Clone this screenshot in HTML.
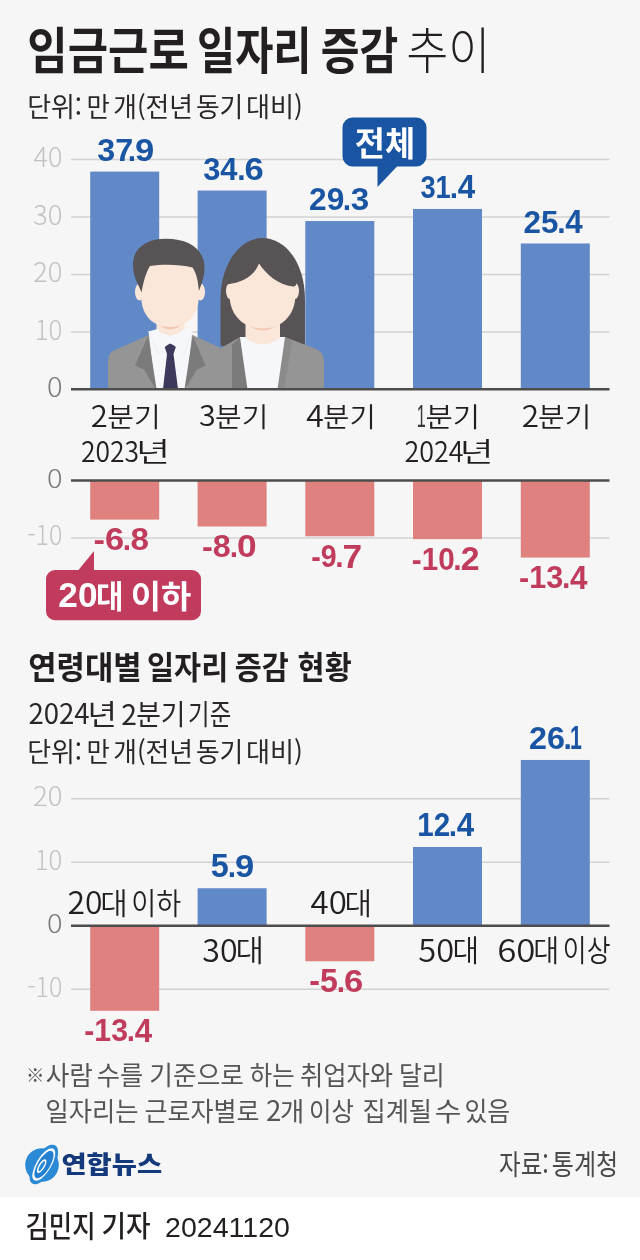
<!DOCTYPE html>
<html lang="ko">
<head>
<meta charset="utf-8">
<title>임금근로 일자리 증감 추이</title>
<style>
html,body{margin:0;padding:0;background:#fff;}
body{width:640px;height:1260px;overflow:hidden;font-family:'Noto Sans CJK KR', 'Liberation Sans', sans-serif;}
svg{display:block;}
svg text{font-family:'Noto Sans CJK KR', 'Liberation Sans', sans-serif;}
</style>
</head>
<body>
<svg width="640" height="1260" viewBox="0 0 640 1260">
<rect x="0" y="0" width="640" height="1197.5" fill="#f6f6f6" />
<rect x="0" y="1197.5" width="640" height="62.5" fill="#ffffff" />
<text><tspan x="27.31" y="69.46" font-size="50.54" font-weight="700" fill="#231f20" textLength="161.45" lengthAdjust="spacingAndGlyphs">임금근로</tspan> <tspan x="196.92" y="69.0" font-size="50.0" font-weight="700" fill="#231f20" textLength="114.65" lengthAdjust="spacingAndGlyphs">일자리</tspan> <tspan x="320.82" y="69.05" font-size="49.46" font-weight="700" fill="#231f20" textLength="77.45" lengthAdjust="spacingAndGlyphs">증감</tspan> <tspan x="406.26" y="69.0" font-size="50.0" font-weight="300" fill="#231f20" textLength="84.15" lengthAdjust="spacingAndGlyphs">추이</tspan></text>
<text><tspan x="27.17" y="117.2" font-size="26.8" font-weight="400" fill="#2b2728" textLength="54.85" lengthAdjust="spacingAndGlyphs">단위:</tspan> <tspan x="86.47" y="117.2" font-size="26.8" font-weight="400" fill="#2b2728" textLength="23.29" lengthAdjust="spacingAndGlyphs">만</tspan> <tspan x="113.21" y="117.2" font-size="26.8" font-weight="400" fill="#2b2728" textLength="79.82" lengthAdjust="spacingAndGlyphs">개(전년</tspan> <tspan x="195.91" y="117.2" font-size="26.8" font-weight="400" fill="#2b2728" textLength="47.44" lengthAdjust="spacingAndGlyphs">동기</tspan> <tspan x="245.91" y="117.2" font-size="26.8" font-weight="400" fill="#2b2728" textLength="56.89" lengthAdjust="spacingAndGlyphs">대비)</tspan></text>
<line x1="71" y1="159.5" x2="609.5" y2="159.5" stroke="#d2d2d2" stroke-width="1.5"/>
<text><tspan x="33.46" y="167.23" font-size="27.4" font-weight="300" fill="#c2c2c2" textLength="28.89" lengthAdjust="spacingAndGlyphs">40</tspan></text>
<line x1="71" y1="217.0" x2="609.5" y2="217.0" stroke="#d2d2d2" stroke-width="1.5"/>
<text><tspan x="32.90" y="224.73" font-size="27.4" font-weight="300" fill="#c2c2c2" textLength="29.48" lengthAdjust="spacingAndGlyphs">30</tspan></text>
<line x1="71" y1="274.5" x2="609.5" y2="274.5" stroke="#d2d2d2" stroke-width="1.5"/>
<text><tspan x="32.90" y="282.23" font-size="27.4" font-weight="300" fill="#c2c2c2" textLength="29.48" lengthAdjust="spacingAndGlyphs">20</tspan></text>
<line x1="71" y1="332.0" x2="609.5" y2="332.0" stroke="#d2d2d2" stroke-width="1.5"/>
<text><tspan x="34.68" y="339.73" font-size="27.4" font-weight="300" fill="#c2c2c2" textLength="27.61" lengthAdjust="spacingAndGlyphs">10</tspan></text>
<rect x="90.2" y="171.58" width="69" height="217.92" fill="#6289c7" />
<rect x="197.6" y="190.55" width="69" height="198.95" fill="#6289c7" />
<rect x="305.3" y="221.03" width="69" height="168.47" fill="#6289c7" />
<rect x="413" y="208.95" width="69" height="180.55" fill="#6289c7" />
<rect x="520.8" y="243.45" width="69" height="146.05" fill="#6289c7" />
<g id="people">
<path d="M220.5 346 L220.5 300 C220.5 262 241 238 262.5 238 C285 238 305 262 305 300 L305 346 Z" fill="#585455"/>
<path d="M214 389 L214 352 L240 337 L285 337 L316 349 Q324 352 324 362 L324 389 Z" fill="#959595"/>
<path d="M240 337 L247.5 389 L232 389 L232 345 Z" fill="#7b7b7b"/>
<path d="M285 337 L277.5 389 L284 389 L292 341 Z" fill="#8b8b8b"/>
<path d="M240 337 L285 337 L277.5 389 L247.5 389 Z" fill="#f6f7fa"/>
<path d="M245.5 316 L245.5 338 Q262.5 351 280 338 L280 316 Z" fill="#fbe6da"/>
<path d="M245.5 323 Q262.5 338 280 323 L280 316 L245.5 316 Z" fill="#f3c7b2"/>
<ellipse cx="230" cy="291" rx="4" ry="8" fill="#fbe6da"/>
<ellipse cx="295" cy="291" rx="4" ry="8" fill="#fbe6da"/>
<path d="M229.5 270 L229.5 294 C229.5 317 245 328.5 262.5 328.5 C280 328.5 295.5 317 295.5 294 L295.5 270 C295.5 262 229.5 262 229.5 270 Z" fill="#fbe6da"/>
<path d="M259 263.5 C254 276 244 282 227 284.5 L224 284 L226 275 L237 256 L259 250 Z" fill="#585455"/>
<path d="M259 263.5 C266 274 278 285 293 286.5 C296 287 297 284 296 282 L301 282 L299 275 L287 256 L259 250 Z" fill="#585455"/>
<path d="M108 389 L108 362 Q108 352 116 349.5 L149 335 L192.5 335 L224 349.5 Q232 352 232 362 L232 389 Z" fill="#959595"/>
<path d="M148.5 331 L192.5 331 L186 389 L155 389 Z" fill="#f6f7fa"/>
<path d="M149.5 333 L158.5 353.5 L166 345" fill="none" stroke="#dfe2e8" stroke-width="1"/>
<path d="M191.5 333 L183.5 353.5 L175.5 345" fill="none" stroke="#dfe2e8" stroke-width="1"/>
<path d="M148 336 L135 365.5 L144 369.5 L155.5 389 L156.5 389 L150.5 350 Z" fill="#7b7b7b"/>
<path d="M193 336 L205.5 365.5 L197 369.5 L185 389 L184.5 389 L190.5 350 Z" fill="#7b7b7b"/>
<path d="M164.5 346.5 L170.2 343.5 L176 346.5 L173.5 354 L178 389 L163 389 L167 354 Z" fill="#3b3a5d"/>
<path d="M156.5 314 L156.5 331 L170 336 L184.5 331 L184.5 314 Z" fill="#fbe6da"/>
<path d="M156.5 322 Q170 337 184.5 322 L184.5 316 L156.5 316 Z" fill="#f3c7b2"/>
<path d="M148.5 331.5 L157.5 329 L168 344 L158.5 353.5 Z" fill="#f6f7fa"/>
<path d="M192.5 331.5 L183.5 329 L172.5 344 L183.5 353.5 Z" fill="#f6f7fa"/>
<ellipse cx="139.5" cy="292" rx="4.5" ry="8.5" fill="#fbe6da"/>
<ellipse cx="200.5" cy="292" rx="4.5" ry="8.5" fill="#fbe6da"/>
<path d="M141 262 L141 294 C141 316 153 327 170 327 C187 327 199 316 199 294 L199 262 Z" fill="#fbe6da"/>
<path d="M141.5 292.5 C139 285 133 278 133 265 C133 248 146 238.7 166 238.7 C190 238.7 204.5 250 204.5 268 C204.5 278 201 285 199 291 C198 282 197 274 192.5 267.5 C180 264 162 264 150 266 C145.5 273 143 284 141.5 292.5 Z" fill="#585455"/>
</g>
<line x1="71" y1="389.2" x2="609.5" y2="389.2" stroke="#4d4d4d" stroke-width="2.5"/>
<text><tspan x="47.05" y="396.73" font-size="27.4" font-weight="300" fill="#7a7a7a" textLength="15.55" lengthAdjust="spacingAndGlyphs">0</tspan></text>
<text><tspan x="97.35" y="160.66" font-size="31.97" font-weight="700" fill="#1955a3" textLength="35.91" lengthAdjust="spacingAndGlyphs" style="font-family:'Liberation Sans', 'Noto Sans CJK KR', sans-serif">37</tspan><tspan x="127.80" y="160.68" font-size="31" font-weight="700" fill="#1955a3" textLength="8.34" lengthAdjust="spacingAndGlyphs" style="font-family:'Liberation Sans', 'Noto Sans CJK KR', sans-serif">.</tspan><tspan x="135.02" y="160.66" font-size="31.97" font-weight="700" fill="#1955a3" textLength="19.24" lengthAdjust="spacingAndGlyphs" style="font-family:'Liberation Sans', 'Noto Sans CJK KR', sans-serif">9</tspan></text>
<text><tspan x="203.13" y="179.63" font-size="31.97" font-weight="700" fill="#1955a3" textLength="34.34" lengthAdjust="spacingAndGlyphs" style="font-family:'Liberation Sans', 'Noto Sans CJK KR', sans-serif">34</tspan><tspan x="237.30" y="179.65" font-size="31" font-weight="700" fill="#1955a3" textLength="8.34" lengthAdjust="spacingAndGlyphs" style="font-family:'Liberation Sans', 'Noto Sans CJK KR', sans-serif">.</tspan><tspan x="244.52" y="179.63" font-size="31.97" font-weight="700" fill="#1955a3" textLength="19.24" lengthAdjust="spacingAndGlyphs" style="font-family:'Liberation Sans', 'Noto Sans CJK KR', sans-serif">6</tspan></text>
<text><tspan x="309.05" y="210.11" font-size="31.97" font-weight="700" fill="#1955a3" textLength="35.19" lengthAdjust="spacingAndGlyphs" style="font-family:'Liberation Sans', 'Noto Sans CJK KR', sans-serif">29</tspan><tspan x="342.80" y="210.12" font-size="31" font-weight="700" fill="#1955a3" textLength="8.34" lengthAdjust="spacingAndGlyphs" style="font-family:'Liberation Sans', 'Noto Sans CJK KR', sans-serif">.</tspan><tspan x="350.74" y="210.11" font-size="31.97" font-weight="700" fill="#1955a3" textLength="18.47" lengthAdjust="spacingAndGlyphs" style="font-family:'Liberation Sans', 'Noto Sans CJK KR', sans-serif">3</tspan></text>
<text><tspan x="420.45" y="198.03" font-size="31.97" font-weight="700" fill="#1955a3" textLength="30.33" lengthAdjust="spacingAndGlyphs" style="font-family:'Liberation Sans', 'Noto Sans CJK KR', sans-serif">31</tspan><tspan x="449.80" y="198.05" font-size="31" font-weight="700" fill="#1955a3" textLength="8.34" lengthAdjust="spacingAndGlyphs" style="font-family:'Liberation Sans', 'Noto Sans CJK KR', sans-serif">.</tspan><tspan x="457.77" y="198.35" font-size="32.9" font-weight="700" fill="#1955a3" textLength="17.42" lengthAdjust="spacingAndGlyphs" style="font-family:'Liberation Sans', 'Noto Sans CJK KR', sans-serif">4</tspan></text>
<text><tspan x="523.56" y="232.53" font-size="31.97" font-weight="700" fill="#1955a3" textLength="34.85" lengthAdjust="spacingAndGlyphs" style="font-family:'Liberation Sans', 'Noto Sans CJK KR', sans-serif">25</tspan><tspan x="557.30" y="232.55" font-size="31" font-weight="700" fill="#1955a3" textLength="8.34" lengthAdjust="spacingAndGlyphs" style="font-family:'Liberation Sans', 'Noto Sans CJK KR', sans-serif">.</tspan><tspan x="565.27" y="232.85" font-size="32.9" font-weight="700" fill="#1955a3" textLength="17.42" lengthAdjust="spacingAndGlyphs" style="font-family:'Liberation Sans', 'Noto Sans CJK KR', sans-serif">4</tspan></text>
<text><tspan x="90.76" y="426.5" font-size="29.51" font-weight="350" fill="#231f20" textLength="17.01" lengthAdjust="spacingAndGlyphs">2</tspan><tspan x="107.30" y="426.55" font-size="27.47" font-weight="350" fill="#231f20" textLength="53.48" lengthAdjust="spacingAndGlyphs">분기</tspan></text>
<text><tspan x="199.09" y="426.21" font-size="29.11" font-weight="350" fill="#231f20" textLength="16.71" lengthAdjust="spacingAndGlyphs">3</tspan><tspan x="215.05" y="426.55" font-size="27.47" font-weight="350" fill="#231f20" textLength="53.20" lengthAdjust="spacingAndGlyphs">분기</tspan></text>
<text><tspan x="306.36" y="426.5" font-size="29.93" font-weight="350" fill="#231f20" textLength="17.57" lengthAdjust="spacingAndGlyphs">4</tspan><tspan x="323.07" y="426.55" font-size="27.47" font-weight="350" fill="#231f20" textLength="52.65" lengthAdjust="spacingAndGlyphs">분기</tspan></text>
<text><tspan x="416.70" y="426.5" font-size="30.8" font-weight="400" fill="#3a3637" textLength="9.06" lengthAdjust="spacingAndGlyphs" style="font-family:'Liberation Sans', 'Noto Sans CJK KR', sans-serif">1</tspan><tspan x="425.52" y="426.55" font-size="27.47" font-weight="350" fill="#231f20" textLength="54.59" lengthAdjust="spacingAndGlyphs">분기</tspan></text>
<text><tspan x="521.74" y="426.5" font-size="29.51" font-weight="350" fill="#231f20" textLength="17.31" lengthAdjust="spacingAndGlyphs">2</tspan><tspan x="538.05" y="426.55" font-size="27.47" font-weight="350" fill="#231f20" textLength="53.20" lengthAdjust="spacingAndGlyphs">분기</tspan></text>
<text><tspan x="80.94" y="461.91" font-size="28.7" font-weight="350" fill="#231f20" textLength="58.04" lengthAdjust="spacingAndGlyphs">2023</tspan><tspan x="135.91" y="462.13" font-size="26.97" font-weight="350" fill="#231f20" textLength="34.17" lengthAdjust="spacingAndGlyphs">년</tspan></text>
<text><tspan x="404.42" y="461.91" font-size="28.7" font-weight="350" fill="#231f20" textLength="59.05" lengthAdjust="spacingAndGlyphs">2024</tspan><tspan x="459.70" y="462.13" font-size="26.97" font-weight="350" fill="#231f20" textLength="33.84" lengthAdjust="spacingAndGlyphs">년</tspan></text>
<path d="M352.5 117.5 h64 a10 10 0 0 1 10 10 v29 a10 10 0 0 1 -10 10 h-19.5 l-19.5 20.5 v-20.5 h-25 a10 10 0 0 1 -10 -10 v-29 a10 10 0 0 1 10 -10 z" fill="#1955a3"/>
<text><tspan x="354.69" y="155.73" font-size="33.6" font-weight="700" fill="#ffffff" textLength="60.44" lengthAdjust="spacingAndGlyphs">전체</tspan></text>
<line x1="71" y1="538.0" x2="609.5" y2="538.0" stroke="#d2d2d2" stroke-width="1.5"/>
<rect x="90.2" y="480.5" width="69" height="39.1" fill="#df817e" />
<rect x="197.6" y="480.5" width="69" height="46.0" fill="#df817e" />
<rect x="305.3" y="480.5" width="69" height="55.77" fill="#df817e" />
<rect x="413" y="480.5" width="69" height="58.65" fill="#df817e" />
<rect x="520.8" y="480.5" width="69" height="77.05" fill="#df817e" />
<line x1="71" y1="480.5" x2="609.5" y2="480.5" stroke="#4d4d4d" stroke-width="2.5"/>
<text><tspan x="47.05" y="487.74" font-size="26.03" font-weight="300" fill="#7a7a7a" textLength="15.55" lengthAdjust="spacingAndGlyphs">0</tspan></text>
<text><tspan x="27.25" y="545.23" font-size="27.4" font-weight="300" fill="#c2c2c2" textLength="35.08" lengthAdjust="spacingAndGlyphs">-10</tspan></text>
<text><tspan x="93.62" y="550.28" font-size="32.11" font-weight="700" fill="#c03b5c" textLength="30.63" lengthAdjust="spacingAndGlyphs" style="font-family:'Liberation Sans', 'Noto Sans CJK KR', sans-serif">-6</tspan><tspan x="122.80" y="550.3" font-size="31" font-weight="700" fill="#c03b5c" textLength="8.34" lengthAdjust="spacingAndGlyphs" style="font-family:'Liberation Sans', 'Noto Sans CJK KR', sans-serif">.</tspan><tspan x="130.40" y="550.28" font-size="32.11" font-weight="700" fill="#c03b5c" textLength="18.47" lengthAdjust="spacingAndGlyphs" style="font-family:'Liberation Sans', 'Noto Sans CJK KR', sans-serif">8</tspan></text>
<text><tspan x="202.11" y="557.18" font-size="32.11" font-weight="700" fill="#c03b5c" textLength="28.74" lengthAdjust="spacingAndGlyphs" style="font-family:'Liberation Sans', 'Noto Sans CJK KR', sans-serif">-8</tspan><tspan x="229.80" y="557.2" font-size="31" font-weight="700" fill="#c03b5c" textLength="8.34" lengthAdjust="spacingAndGlyphs" style="font-family:'Liberation Sans', 'Noto Sans CJK KR', sans-serif">.</tspan><tspan x="236.99" y="557.18" font-size="32.11" font-weight="700" fill="#c03b5c" textLength="19.65" lengthAdjust="spacingAndGlyphs" style="font-family:'Liberation Sans', 'Noto Sans CJK KR', sans-serif">0</tspan></text>
<text><tspan x="311.16" y="566.95" font-size="32.11" font-weight="700" fill="#c03b5c" textLength="25.36" lengthAdjust="spacingAndGlyphs" style="font-family:'Liberation Sans', 'Noto Sans CJK KR', sans-serif">-9</tspan><tspan x="335.30" y="566.98" font-size="31" font-weight="700" fill="#c03b5c" textLength="8.34" lengthAdjust="spacingAndGlyphs" style="font-family:'Liberation Sans', 'Noto Sans CJK KR', sans-serif">.</tspan><tspan x="342.49" y="567.61" font-size="33.53" font-weight="700" fill="#c03b5c" textLength="19.65" lengthAdjust="spacingAndGlyphs" style="font-family:'Liberation Sans', 'Noto Sans CJK KR', sans-serif">7</tspan></text>
<text><tspan x="411.81" y="569.83" font-size="32.11" font-weight="700" fill="#c03b5c" textLength="42.83" lengthAdjust="spacingAndGlyphs" style="font-family:'Liberation Sans', 'Noto Sans CJK KR', sans-serif">-10</tspan><tspan x="453.20" y="569.85" font-size="31" font-weight="700" fill="#c03b5c" textLength="8.34" lengthAdjust="spacingAndGlyphs" style="font-family:'Liberation Sans', 'Noto Sans CJK KR', sans-serif">.</tspan><tspan x="460.78" y="570.15" font-size="32.57" font-weight="700" fill="#c03b5c" textLength="18.84" lengthAdjust="spacingAndGlyphs" style="font-family:'Liberation Sans', 'Noto Sans CJK KR', sans-serif">2</tspan></text>
<text><tspan x="519.08" y="588.23" font-size="32.11" font-weight="700" fill="#c03b5c" textLength="44.20" lengthAdjust="spacingAndGlyphs" style="font-family:'Liberation Sans', 'Noto Sans CJK KR', sans-serif">-13</tspan><tspan x="562.10" y="588.25" font-size="31" font-weight="700" fill="#c03b5c" textLength="8.34" lengthAdjust="spacingAndGlyphs" style="font-family:'Liberation Sans', 'Noto Sans CJK KR', sans-serif">.</tspan><tspan x="570.07" y="588.55" font-size="33.04" font-weight="700" fill="#c03b5c" textLength="17.42" lengthAdjust="spacingAndGlyphs" style="font-family:'Liberation Sans', 'Noto Sans CJK KR', sans-serif">4</tspan></text>
<path d="M55 570 h23.5 l15.5 -19 v19 h98 a9 9 0 0 1 9 9 v32.2 a9 9 0 0 1 -9 9 h-137 a9 9 0 0 1 -9 -9 v-32.2 a9 9 0 0 1 9 -9 z" fill="#c03b5c"/>
<text><tspan x="58.34" y="607.25" font-size="35.21" font-weight="700" fill="#ffffff" textLength="39.15" lengthAdjust="spacingAndGlyphs" style="font-family:'Liberation Sans', 'Noto Sans CJK KR', sans-serif">20</tspan><tspan x="95.91" y="607.65" font-size="31.72" font-weight="700" fill="#ffffff" textLength="27.48" lengthAdjust="spacingAndGlyphs">대</tspan> <tspan x="130.70" y="607.65" font-size="31.72" font-weight="700" fill="#ffffff" textLength="60.56" lengthAdjust="spacingAndGlyphs">이하</tspan></text>
<text><tspan x="28.26" y="679.2" font-size="31.8" font-weight="700" fill="#231f20" textLength="113.41" lengthAdjust="spacingAndGlyphs">연령대별</tspan> <tspan x="147.03" y="679.2" font-size="31.8" font-weight="700" fill="#231f20" textLength="81.21" lengthAdjust="spacingAndGlyphs">일자리</tspan> <tspan x="234.82" y="679.2" font-size="31.8" font-weight="700" fill="#231f20" textLength="54.06" lengthAdjust="spacingAndGlyphs">증감</tspan> <tspan x="297.62" y="679.2" font-size="31.8" font-weight="700" fill="#231f20" textLength="54.06" lengthAdjust="spacingAndGlyphs">현황</tspan></text>
<text><tspan x="28.40" y="724.32" font-size="28.18" font-weight="400" fill="#2b2728" textLength="61.18" lengthAdjust="spacingAndGlyphs">2024</tspan><tspan x="87.56" y="724.56" font-size="28.09" font-weight="400" fill="#2b2728" textLength="29.39" lengthAdjust="spacingAndGlyphs">년</tspan> <tspan x="121.37" y="724.6" font-size="28.56" font-weight="400" fill="#2b2728" textLength="15.68" lengthAdjust="spacingAndGlyphs">2</tspan><tspan x="136.16" y="724.74" font-size="28.3" font-weight="400" fill="#2b2728" textLength="49.33" lengthAdjust="spacingAndGlyphs">분기</tspan> <tspan x="188.10" y="724.74" font-size="28.3" font-weight="400" fill="#2b2728" textLength="43.08" lengthAdjust="spacingAndGlyphs">기준</tspan></text>
<text><tspan x="27.17" y="761.9" font-size="26.8" font-weight="400" fill="#2b2728" textLength="54.85" lengthAdjust="spacingAndGlyphs">단위:</tspan> <tspan x="86.47" y="761.9" font-size="26.8" font-weight="400" fill="#2b2728" textLength="23.29" lengthAdjust="spacingAndGlyphs">만</tspan> <tspan x="113.21" y="761.9" font-size="26.8" font-weight="400" fill="#2b2728" textLength="79.82" lengthAdjust="spacingAndGlyphs">개(전년</tspan> <tspan x="195.91" y="761.9" font-size="26.8" font-weight="400" fill="#2b2728" textLength="47.44" lengthAdjust="spacingAndGlyphs">동기</tspan> <tspan x="245.91" y="761.9" font-size="26.8" font-weight="400" fill="#2b2728" textLength="56.89" lengthAdjust="spacingAndGlyphs">대비)</tspan></text>
<line x1="71" y1="798.7" x2="609.5" y2="798.7" stroke="#d2d2d2" stroke-width="1.5"/>
<text><tspan x="32.90" y="806.18" font-size="26.71" font-weight="300" fill="#c2c2c2" textLength="29.48" lengthAdjust="spacingAndGlyphs">20</tspan></text>
<line x1="71" y1="862.2" x2="609.5" y2="862.2" stroke="#d2d2d2" stroke-width="1.5"/>
<text><tspan x="34.68" y="869.68" font-size="26.71" font-weight="300" fill="#c2c2c2" textLength="27.61" lengthAdjust="spacingAndGlyphs">10</tspan></text>
<line x1="71" y1="989.2" x2="609.5" y2="989.2" stroke="#d2d2d2" stroke-width="1.5"/>
<text><tspan x="27.25" y="996.68" font-size="26.71" font-weight="300" fill="#c2c2c2" textLength="35.08" lengthAdjust="spacingAndGlyphs">-10</tspan></text>
<rect x="90.2" y="925.7" width="69" height="85.09" fill="#df817e" />
<rect x="197.6" y="888.24" width="69" height="37.47" fill="#6289c7" />
<rect x="305.3" y="925.7" width="69" height="35.56" fill="#df817e" />
<rect x="413" y="846.96" width="69" height="78.74" fill="#6289c7" />
<rect x="520.8" y="759.97" width="69" height="165.74" fill="#6289c7" />
<line x1="71" y1="925.7" x2="609.5" y2="925.7" stroke="#4d4d4d" stroke-width="2.5"/>
<text><tspan x="47.05" y="933.24" font-size="26.03" font-weight="300" fill="#7a7a7a" textLength="15.55" lengthAdjust="spacingAndGlyphs">0</tspan></text>
<text><tspan x="84.29" y="1041.47" font-size="32.11" font-weight="700" fill="#c03b5c" textLength="43.68" lengthAdjust="spacingAndGlyphs" style="font-family:'Liberation Sans', 'Noto Sans CJK KR', sans-serif">-13</tspan><tspan x="126.80" y="1041.49" font-size="31" font-weight="700" fill="#c03b5c" textLength="8.34" lengthAdjust="spacingAndGlyphs" style="font-family:'Liberation Sans', 'Noto Sans CJK KR', sans-serif">.</tspan><tspan x="134.77" y="1041.79" font-size="33.04" font-weight="700" fill="#c03b5c" textLength="17.42" lengthAdjust="spacingAndGlyphs" style="font-family:'Liberation Sans', 'Noto Sans CJK KR', sans-serif">4</tspan></text>
<text><tspan x="210.63" y="877.41" font-size="32.43" font-weight="700" fill="#1955a3" textLength="18.02" lengthAdjust="spacingAndGlyphs" style="font-family:'Liberation Sans', 'Noto Sans CJK KR', sans-serif">5</tspan><tspan x="227.70" y="877.44" font-size="31" font-weight="700" fill="#1955a3" textLength="8.34" lengthAdjust="spacingAndGlyphs" style="font-family:'Liberation Sans', 'Noto Sans CJK KR', sans-serif">.</tspan><tspan x="234.92" y="877.42" font-size="31.97" font-weight="700" fill="#1955a3" textLength="19.24" lengthAdjust="spacingAndGlyphs" style="font-family:'Liberation Sans', 'Noto Sans CJK KR', sans-serif">9</tspan></text>
<text><tspan x="309.32" y="991.93" font-size="32.57" font-weight="700" fill="#c03b5c" textLength="28.52" lengthAdjust="spacingAndGlyphs" style="font-family:'Liberation Sans', 'Noto Sans CJK KR', sans-serif">-5</tspan><tspan x="336.80" y="991.96" font-size="31" font-weight="700" fill="#c03b5c" textLength="8.34" lengthAdjust="spacingAndGlyphs" style="font-family:'Liberation Sans', 'Noto Sans CJK KR', sans-serif">.</tspan><tspan x="344.02" y="991.94" font-size="32.11" font-weight="700" fill="#c03b5c" textLength="19.24" lengthAdjust="spacingAndGlyphs" style="font-family:'Liberation Sans', 'Noto Sans CJK KR', sans-serif">6</tspan></text>
<text><tspan x="417.22" y="836.46" font-size="32.43" font-weight="700" fill="#1955a3" textLength="32.93" lengthAdjust="spacingAndGlyphs" style="font-family:'Liberation Sans', 'Noto Sans CJK KR', sans-serif">12</tspan><tspan x="448.80" y="836.16" font-size="31" font-weight="700" fill="#1955a3" textLength="8.34" lengthAdjust="spacingAndGlyphs" style="font-family:'Liberation Sans', 'Noto Sans CJK KR', sans-serif">.</tspan><tspan x="456.77" y="836.46" font-size="32.9" font-weight="700" fill="#1955a3" textLength="17.42" lengthAdjust="spacingAndGlyphs" style="font-family:'Liberation Sans', 'Noto Sans CJK KR', sans-serif">4</tspan></text>
<text><tspan x="529.03" y="749.15" font-size="31.97" font-weight="700" fill="#1955a3" textLength="35.94" lengthAdjust="spacingAndGlyphs" style="font-family:'Liberation Sans', 'Noto Sans CJK KR', sans-serif">26</tspan><tspan x="563.50" y="749.17" font-size="31" font-weight="700" fill="#1955a3" textLength="8.34" lengthAdjust="spacingAndGlyphs" style="font-family:'Liberation Sans', 'Noto Sans CJK KR', sans-serif">.</tspan><tspan x="569.92" y="749.47" font-size="32.9" font-weight="700" fill="#1955a3" textLength="11.84" lengthAdjust="spacingAndGlyphs" style="font-family:'Liberation Sans', 'Noto Sans CJK KR', sans-serif">1</tspan></text>
<text><tspan x="67.47" y="913.88" font-size="31.51" font-weight="350" fill="#231f20" textLength="35.06" lengthAdjust="spacingAndGlyphs">20</tspan><tspan x="100.31" y="913.63" font-size="29.67" font-weight="350" fill="#231f20" textLength="27.47" lengthAdjust="spacingAndGlyphs">대</tspan> <tspan x="131.30" y="913.63" font-size="29.67" font-weight="350" fill="#231f20" textLength="50.01" lengthAdjust="spacingAndGlyphs">이하</tspan></text>
<text><tspan x="202.24" y="961.58" font-size="31.51" font-weight="350" fill="#231f20" textLength="35.31" lengthAdjust="spacingAndGlyphs">30</tspan><tspan x="235.41" y="961.33" font-size="29.67" font-weight="350" fill="#231f20" textLength="28.49" lengthAdjust="spacingAndGlyphs">대</tspan></text>
<text><tspan x="310.59" y="914.08" font-size="31.51" font-weight="350" fill="#231f20" textLength="36.30" lengthAdjust="spacingAndGlyphs">40</tspan><tspan x="344.51" y="913.83" font-size="29.67" font-weight="350" fill="#231f20" textLength="27.54" lengthAdjust="spacingAndGlyphs">대</tspan></text>
<text><tspan x="418.22" y="961.58" font-size="31.51" font-weight="350" fill="#231f20" textLength="35.85" lengthAdjust="spacingAndGlyphs">50</tspan><tspan x="452.40" y="961.33" font-size="29.67" font-weight="350" fill="#231f20" textLength="26.58" lengthAdjust="spacingAndGlyphs">대</tspan></text>
<text><tspan x="497.21" y="961.58" font-size="31.51" font-weight="350" fill="#231f20" textLength="38.27" lengthAdjust="spacingAndGlyphs">60</tspan><tspan x="533.16" y="961.33" font-size="29.67" font-weight="350" fill="#231f20" textLength="25.94" lengthAdjust="spacingAndGlyphs">대</tspan> <tspan x="562.87" y="961.33" font-size="29.67" font-weight="350" fill="#231f20" textLength="47.67" lengthAdjust="spacingAndGlyphs">이상</tspan></text>
<text><tspan x="26.01" y="1082.27" font-size="18.26" font-weight="500" fill="#555555" textLength="18.47" lengthAdjust="spacingAndGlyphs">※</tspan><tspan x="45.77" y="1084.5" font-size="26.7" font-weight="400" fill="#555555" textLength="47.20" lengthAdjust="spacingAndGlyphs">사람</tspan> <tspan x="96.74" y="1084.5" font-size="26.7" font-weight="400" fill="#555555" textLength="46.42" lengthAdjust="spacingAndGlyphs">수를</tspan> <tspan x="149.36" y="1084.5" font-size="26.7" font-weight="400" fill="#555555" textLength="94.63" lengthAdjust="spacingAndGlyphs">기준으로</tspan> <tspan x="249.78" y="1084.5" font-size="26.7" font-weight="400" fill="#555555" textLength="44.84" lengthAdjust="spacingAndGlyphs">하는</tspan> <tspan x="299.93" y="1084.5" font-size="26.7" font-weight="400" fill="#555555" textLength="93.23" lengthAdjust="spacingAndGlyphs">취업자와</tspan> <tspan x="398.96" y="1084.5" font-size="26.7" font-weight="400" fill="#555555" textLength="45.77" lengthAdjust="spacingAndGlyphs">달리</tspan></text>
<text><tspan x="45.53" y="1121.3" font-size="26.7" font-weight="400" fill="#555555" textLength="92.93" lengthAdjust="spacingAndGlyphs">일자리는</tspan> <tspan x="144.55" y="1121.3" font-size="26.7" font-weight="400" fill="#555555" textLength="115.00" lengthAdjust="spacingAndGlyphs">근로자별로</tspan> <tspan x="265.90" y="1121.3" font-size="27.81" font-weight="400" fill="#555555" textLength="15.32" lengthAdjust="spacingAndGlyphs">2</tspan><tspan x="279.93" y="1121.3" font-size="26.7" font-weight="400" fill="#555555" textLength="24.31" lengthAdjust="spacingAndGlyphs">개</tspan> <tspan x="309.05" y="1121.3" font-size="26.7" font-weight="400" fill="#555555" textLength="44.93" lengthAdjust="spacingAndGlyphs">이상</tspan> <tspan x="362.49" y="1121.3" font-size="26.7" font-weight="400" fill="#555555" textLength="69.53" lengthAdjust="spacingAndGlyphs">집계될</tspan> <tspan x="434.80" y="1121.3" font-size="26.7" font-weight="400" fill="#555555" textLength="26.65" lengthAdjust="spacingAndGlyphs">수</tspan> <tspan x="464.51" y="1121.3" font-size="26.7" font-weight="400" fill="#555555" textLength="45.73" lengthAdjust="spacingAndGlyphs">있음</tspan></text>
<g id="logo">
<circle cx="42" cy="1165" r="16.8" fill="#2a8ad6"/>
<g transform="translate(43.8 1164.5) rotate(-59)">
<ellipse cx="0" cy="0" rx="22.3" ry="10" fill="#2a8ad6"/>
<ellipse cx="0" cy="0" rx="18.5" ry="7.4" fill="#ffffff"/>
<ellipse cx="0" cy="0.2" rx="15.6" ry="6.1" fill="#2380d0"/>
<ellipse cx="-2.5" cy="-1.0" rx="7.8" ry="3.1" fill="#ffffff"/>
<ellipse cx="-2.5" cy="-0.9" rx="5.8" ry="1.7" fill="#2a8ad6"/>
</g>
</g>
<text><tspan x="61.43" y="1173.24" font-size="23.58" font-weight="900" fill="#143a7c" textLength="100.66" lengthAdjust="spacingAndGlyphs">연합뉴스</tspan></text>
<text><tspan x="499.06" y="1175.4" font-size="28.9" font-weight="400" fill="#4a4a4a" textLength="49.78" lengthAdjust="spacingAndGlyphs">자료:</tspan> <tspan x="551.80" y="1175.4" font-size="28.9" font-weight="400" fill="#4a4a4a" textLength="66.39" lengthAdjust="spacingAndGlyphs">통계청</tspan></text>
<text><tspan x="25.48" y="1236.86" font-size="29.35" font-weight="500" fill="#231f20" textLength="70.07" lengthAdjust="spacingAndGlyphs">김민지</tspan> <tspan x="101.40" y="1236.89" font-size="29.03" font-weight="500" fill="#231f20" textLength="49.14" lengthAdjust="spacingAndGlyphs">기자</tspan> <tspan x="165.07" y="1236.72" font-size="27.89" font-weight="400" fill="#231f20" textLength="124.93" lengthAdjust="spacingAndGlyphs" style="font-family:'Liberation Sans', 'Noto Sans CJK KR', sans-serif">20241120</tspan></text>
</svg>
</body>
</html>
